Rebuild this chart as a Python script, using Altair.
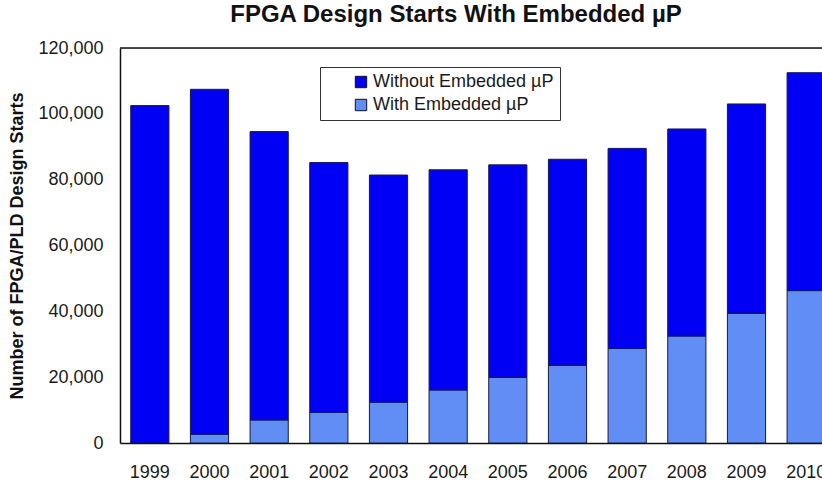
import altair as alt
import pandas as pd

years = ["1999", "2000", "2001", "2002", "2003", "2004", "2005", "2006", "2007", "2008", "2009", "2010"]
with_up = [0, 2650, 7000, 9300, 12400, 16100, 19900, 23600, 28700, 32500, 39400, 46300]
without_up = [102500, 104800, 87600, 75900, 69000, 66900, 64600, 62600, 60800, 62900, 63600, 66200]
series = ["Without Embedded µP", "With Embedded µP"]
colors = ["#0000F5", "#608EF5"]
y_ticks = [0, 20000, 40000, 60000, 80000, 100000, 120000]

rows = []
for yr, w, wo in zip(years, with_up, without_up):
    rows.append({"year": yr, "series": series[1], "value": w, "order": 0})
    rows.append({"year": yr, "series": series[0], "value": wo, "order": 1})
df = pd.DataFrame(rows)

FONT = "Liberation Sans"

bars = alt.Chart(df).mark_bar(clip=True, stroke="#1a1a40", strokeWidth=1).encode(
    x=alt.X(
        "year:N",
        sort=years,
        scale=alt.Scale(range=[0, 716], paddingInner=0.36, paddingOuter=0.18),
        axis=alt.Axis(
            title=None, labelAngle=0, ticks=False, labelPadding=20,
            labelFontSize=18, labelFont=FONT, labelColor="#1a1a1a",
            domainColor="#111111", domainWidth=1.5,
        ),
    ),
    y=alt.Y(
        "value:Q",
        stack="zero",
        scale=alt.Scale(domain=[0, 120000], nice=False),
        axis=alt.Axis(
            title="Number of FPGA/PLD Design Starts", values=y_ticks, format=",.0f",
            grid=False, ticks=False, labelPadding=17, labelFontSize=18,
            labelFont=FONT, labelColor="#1a1a1a", domainColor="#111111",
            domainWidth=1.5, titleFont=FONT, titleFontSize=18,
            titleFontWeight="bold", titleColor="#111111", titlePadding=11,
        ),
    ),
    color=alt.Color(
        "series:N",
        scale=alt.Scale(domain=series, range=colors),
        legend=alt.Legend(
            title=None, orient="none", legendX=200, legendY=19,
            fillColor="white", strokeColor="#333333", padding=6,
            symbolType="square", symbolSize=130, symbolStrokeColor="#111111",
            symbolStrokeWidth=1, symbolOffset=26, labelFontSize=18,
            labelFont=FONT, labelColor="#1a1a1a", labelOffset=3,
            rowPadding=5, labelLimit=400,
        ),
    ),
    order=alt.Order("order:Q", sort="ascending"),
)

top_line = alt.Chart(alt.Data(values=[{}])).mark_rule(color="#111111", strokeWidth=1.5).encode(
    x=alt.value(0), x2=alt.value(702), y=alt.value(0)
)

chart = alt.layer(bars, top_line).properties(
    width=702,
    height=395,
    title=alt.TitleParams(
        "FPGA Design Starts With Embedded µP", fontSize=24, fontWeight="bold",
        font=FONT, color="#111111", anchor="middle", dx=-15, offset=12,
    ),
    autosize=alt.AutoSizeParams(type="none"),
    padding={"left": 120, "top": 48, "right": 0, "bottom": 39},
).configure_view(stroke=None).configure(background="white")

chart.save("out.html", embed_options={"renderer": "svg", "actions": False})
